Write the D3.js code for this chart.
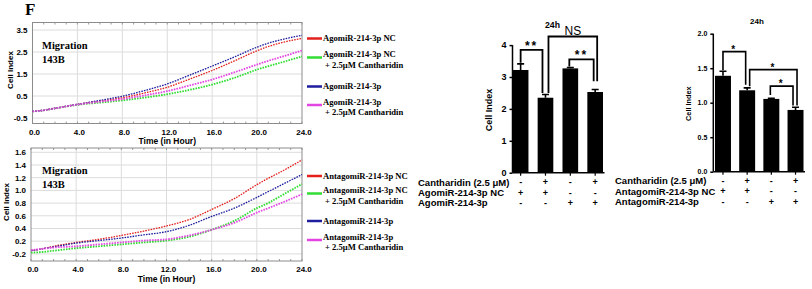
<!DOCTYPE html>
<head>
<meta charset="utf-8">
<script src="https://d3js.org/d3.v7.min.js"></script>
<style>
  body { margin: 0; background: #fff; }
  svg text { font-family: "Liberation Sans", Arial, sans-serif; font-weight: bold; fill: #000; }
  svg text.serif { font-family: "Liberation Serif", "Times New Roman", serif; }
  .frame { fill: none; stroke: #8c8c8c; stroke-width: 1; }
  .grid line { stroke: #dcdcdc; stroke-width: 1; }
  .minor line { stroke: #9a9a9a; stroke-width: 1; }
  .curve { fill: none; stroke-width: 1.4; stroke-dasharray: 1.6,1.1; }
  .bar { fill: #000; }
  .err { stroke: #000; stroke-width: 1.6; fill: none; }
  .sig { fill: none; stroke: #000; stroke-width: 1.8; }
  .baraxis line, .baraxis path { stroke: #000; stroke-width: 1.5; }
</style>
</head>
<body>
<svg id="fig" width="812" height="289"></svg>
<script>
// ---- data ----
var hours = [0, 1, 2, 4, 6, 8, 10, 12, 14, 16, 18, 20, 21, 22, 24];

// agomiR migration (top panel)
var agoNC       = [-0.2, -0.15, -0.06, 0.12, 0.27, 0.42, 0.64, 0.90, 1.27, 1.66, 2.10, 2.56, 2.75, 2.90, 3.12];
var agoNCCanth  = [-0.2, -0.15, -0.06, 0.10, 0.20, 0.30, 0.43, 0.58, 0.78, 1.02, 1.33, 1.70, 1.86, 2.00, 2.30];
var ago         = [-0.2, -0.15, -0.06, 0.12, 0.30, 0.49, 0.75, 1.05, 1.45, 1.86, 2.28, 2.72, 2.90, 3.04, 3.26];
var agoCanth    = [-0.2, -0.15, -0.06, 0.11, 0.24, 0.36, 0.53, 0.72, 0.98, 1.25, 1.58, 1.93, 2.10, 2.25, 2.57];

// antagomiR migration (bottom panel)
var antNC       = [0.05, 0.08, 0.12, 0.18, 0.23, 0.29, 0.36, 0.44, 0.54, 0.70, 0.87, 1.09, 1.19, 1.28, 1.48];
var antNCCanth  = [0.02, 0.03, 0.05, 0.09, 0.12, 0.15, 0.18, 0.21, 0.27, 0.38, 0.52, 0.72, 0.80, 0.90, 1.10];
var ant         = [0.05, 0.08, 0.11, 0.17, 0.21, 0.25, 0.30, 0.35, 0.45, 0.59, 0.72, 0.89, 0.98, 1.07, 1.25];
var antCanth    = [0.06, 0.08, 0.10, 0.12, 0.15, 0.18, 0.21, 0.23, 0.29, 0.38, 0.49, 0.65, 0.72, 0.79, 0.94];

var seriesColors = ['#e3201c', '#33dd33', '#1d1d9e', '#e245e2'];

var agoLegend = [['AgomiR-214-3p NC'], ['AgomiR-214-3p NC', '+ 2.5\u03bcM Cantharidin'],
                 ['AgomiR-214-3p'], ['AgomiR-214-3p', '+ 2.5\u03bcM Cantharidin']];
var antLegend = [['AntagomiR-214-3p NC'], ['AntagomiR-214-3p NC', '+ 2.5\u03bcM Cantharidin'],
                 ['AntagomiR-214-3p'], ['AntagomiR-214-3p', '+ 2.5\u03bcM Cantharidin']];

var hourTicks = [0, 4, 8, 12, 16, 20, 24];
var topTicks = [-0.5, 0.5, 1.5, 2.5, 3.5];
var topTickLabels = ['-0.5', '0.5', '1.5', '2.5', '3.5'];
var bottomTicks = [0, 0.2, 0.4, 0.6, 0.8, 1.0, 1.2, 1.4, 1.6];
var bottomTickLabels = ['-0.2', '0.2', '0.4', '0.6', '0.8', '1.0', '1.2', '1.4', '1.6'];

// 24h bar panels
var groups = ['g1', 'g2', 'g3', 'g4'];
var agoMeans = [3.22, 2.35, 3.27, 2.53];
var agoErr   = [0.19, 0.10, 0.03, 0.08];
var antMeans = [1.39, 1.18, 1.055, 0.895];
var antErr   = [0.065, 0.035, 0.01, 0.04];
var canthRow = ['-', '+', '-', '+'];
var ncRow    = ['+', '+', '-', '-'];
var mirRow   = ['-', '-', '+', '+'];
var agoRowNames = ['Cantharidin (2.5 \u03bcM)', 'AgomiR-214-3p NC', 'AgomiR-214-3p'];
var antRowNames = ['Cantharidin (2.5 \u03bcM)', 'AntagomiR-214-3p NC', 'AntagomiR-214-3p'];
var agoBarTicks = [0, 1, 2, 3, 4];
var antBarTicks = [0, 0.5, 1.0, 1.5, 2.0];

// significance: [from, to, label, top, leg bottom a, leg bottom b] (data units)
var agoSig = [[0, 1, '**', 3.85, 3.45, 2.50], [1, 3, 'NS', 4.27, 2.50, 2.87], [2, 3, '**', 3.55, 3.33, 2.87]];
var antSig = [[0, 1, '*', 1.74, 1.47, 1.26], [1, 3, '*', 1.48, 1.24, 0.96], [2, 3, '*', 1.24, 1.11, 0.96]];

var svg = d3.select('#fig');

svg.append('text').attr('class', 'serif')
    .attr('x', 25).attr('y', 15)
    .style('font-size', '17px')
    .text('F');

// ---- line panels ----
function linePanel(opt) {
  var x = d3.scaleLinear().domain([0, 24]).range([opt.left, opt.right]);
  var y = d3.scaleLinear().domain(opt.domain).range([opt.bottom, opt.top]);
  var g = svg.append('g');

  var grid = g.append('g').attr('class', 'grid');
  grid.selectAll('.v').data(hourTicks.slice(1, -1)).enter().append('line')
      .attr('x1', x).attr('x2', x).attr('y1', opt.top).attr('y2', opt.bottom);
  grid.selectAll('.h').data(opt.ticks).enter().append('line')
      .attr('x1', opt.left).attr('x2', opt.right).attr('y1', y).attr('y2', y);

  // small inward ticks on the frame
  var minor = g.append('g').attr('class', 'minor');
  var hrs = d3.range(0, 25, 1);
  minor.selectAll('.t').data(hrs).enter().append('line')
      .attr('x1', x).attr('x2', x).attr('y1', opt.top).attr('y2', opt.top + 2);
  minor.selectAll('.b').data(hrs).enter().append('line')
      .attr('x1', x).attr('x2', x).attr('y1', opt.bottom).attr('y2', opt.bottom - 2);

  g.append('rect').attr('class', 'frame')
      .attr('x', opt.left).attr('y', opt.top)
      .attr('width', opt.right - opt.left).attr('height', opt.bottom - opt.top);

  var line = d3.line().x(function(d, i) { return x(hours[i]); }).y(function(d) { return y(d); })
      .curve(d3.curveMonotoneX);
  opt.series.forEach(function(s, i) {
    g.append('path').attr('class', 'curve')
        .attr('d', line(s))
        .style('stroke', seriesColors[i])
        .style('stroke-width', (i == 1 || i == 3) ? 1.8 : 1.3);
  });

  g.selectAll('.ylab').data(opt.ticks).enter().append('text')
      .attr('x', opt.left - 5).attr('y', y).attr('dy', '0.35em')
      .attr('text-anchor', 'end').style('font-size', '8px')
      .text(function(d, i) { return opt.tickLabels[i]; });

  g.selectAll('.xlab').data(hourTicks).enter().append('text')
      .attr('x', function(d) { return x(d) + 2; }).attr('y', opt.bottom + 11)
      .attr('text-anchor', 'middle').style('font-size', '8px')
      .text(function(d) { return d3.format('.1f')(d); });

  g.append('text').attr('x', (opt.left + opt.right) / 2).attr('y', opt.bottom + 20.5)
      .attr('text-anchor', 'middle').style('font-size', '8.5px')
      .text('Time (in Hour)');

  g.append('text')
      .attr('transform', 'translate(' + opt.ylabX + ',' + opt.ylabY + ') rotate(-90)')
      .attr('text-anchor', 'middle').style('font-size', '8px')
      .text('Cell Index');

  g.append('text').attr('class', 'serif').attr('x', 42).attr('y', opt.top + 26)
      .style('font-size', '10.5px').text('Migration');
  g.append('text').attr('class', 'serif').attr('x', 42).attr('y', opt.top + 40)
      .style('font-size', '10.5px').text('143B');

  // legend
  var lg = g.append('g');
  opt.legend.forEach(function(lines, i) {
    var ly = opt.legendY[i];
    lg.append('line').attr('x1', 307).attr('x2', 322).attr('y1', ly).attr('y2', ly)
        .style('stroke', seriesColors[i]).style('stroke-width', 2.5);
    lines.forEach(function(t, j) {
      lg.append('text').attr('class', 'serif')
          .attr('x', j == 0 ? 323 : 325)
          .attr('y', ly + (lines.length > 1 ? -3 + j * 10.5 : 0)).attr('dy', '0.33em')
          .style('font-size', '8.6px').text(t);
    });
  });
}

linePanel({
  left: 32.5, right: 302, top: 22.5, bottom: 123.5,
  domain: [3.5 - (123.5 - 30) / 22, 3.5 + (30 - 22.5) / 22],
  ticks: topTicks, tickLabels: topTickLabels,
  series: [agoNC, agoNCCanth, ago, agoCanth],
  legend: agoLegend, legendY: [38.5, 57.5, 86.5, 105],
  ylabX: 13, ylabY: 70
});

linePanel({
  left: 31, right: 302, top: 148, bottom: 261,
  domain: [-(261 - 253.9) / 63.5, (253.9 - 148) / 63.5],
  ticks: bottomTicks, tickLabels: bottomTickLabels,
  series: [antNC, antNCCanth, ant, antCanth],
  legend: antLegend, legendY: [176, 193.5, 221, 240],
  ylabX: 9, ylabY: 202
});

// ---- bar panels ----
function barPanel(opt) {
  var x = d3.scaleBand().domain(groups).range([opt.x0, opt.x1]).paddingInner(opt.pad).paddingOuter(0);
  var y = d3.scaleLinear().domain([0, opt.ticks[opt.ticks.length - 1]]).range([opt.y0, opt.y1]);
  var g = svg.append('g');
  var cx = function(i) { return x(groups[i]) + x.bandwidth() / 2; };

  g.selectAll('.bar').data(opt.means).enter().append('rect').attr('class', 'bar')
      .attr('x', function(d, i) { return x(groups[i]); })
      .attr('y', function(d) { return y(d); })
      .attr('width', x.bandwidth())
      .attr('height', function(d) { return y(0) - y(d); });

  opt.means.forEach(function(m, i) {
    var top = y(m + opt.err[i]);
    g.append('path').attr('class', 'err')
        .attr('d', 'M' + cx(i) + ',' + y(m) + 'V' + top + 'M' + (cx(i) - 3.5) + ',' + top + 'H' + (cx(i) + 3.5));
  });

  // axes
  var ax = g.append('g').attr('class', 'baraxis').attr('transform', 'translate(' + opt.axisX + ',0)')
      .call(d3.axisLeft(y).tickValues(opt.ticks).tickSize(3).tickFormat(opt.fmt));
  ax.select('.domain').attr('d', 'M0,' + y(0) + 'V' + y(opt.ticks[opt.ticks.length - 1]));
  ax.selectAll('text').style('font-size', opt.tickFont).style('font-family', '"Liberation Sans", Arial, sans-serif')
      .style('font-weight', 'bold').attr('fill', opt.tickColor);

  g.append('line').attr('x1', opt.axisX).attr('x2', opt.x1 + 1.5).attr('y1', y(0)).attr('y2', y(0))
      .style('stroke', '#000').style('stroke-width', 1.5);
  groups.forEach(function(d, i) {
    g.append('line').attr('x1', cx(i)).attr('x2', cx(i)).attr('y1', y(0)).attr('y2', y(0) + 3)
        .style('stroke', '#000').style('stroke-width', 1.2);
  });

  g.append('text')
      .attr('transform', 'translate(' + opt.ylabX + ',' + ((y(0) + y(opt.ticks[opt.ticks.length - 1])) / 2 + 1) + ') rotate(-90)')
      .attr('text-anchor', 'middle').style('font-size', opt.ylabFont).text('Cell Index');

  g.append('text').attr('x', opt.titleX).attr('y', opt.titleY).attr('text-anchor', 'middle')
      .style('font-size', opt.titleFont).text('24h');

  // significance brackets
  opt.sig.forEach(function(s, k) {
    var xa = cx(s[0]) + opt.legDx[k][0], xb = cx(s[1]) + opt.legDx[k][1];
    var yt = y(s[3]);
    g.append('path').attr('class', 'sig').style('stroke-width', opt.sigWidth)
        .attr('d', 'M' + xa + ',' + y(s[4]) + 'V' + yt + 'H' + xb + 'V' + y(s[5]));
    var ns = s[2] == 'NS';
    g.append('text').attr('x', (xa + xb) / 2).attr('y', ns ? yt - 1.5 : yt + opt.starDy)
        .attr('text-anchor', 'middle')
        .style('font-weight', ns ? 'normal' : 'bold')
        .style('font-size', ns ? '12px' : opt.starFont)
        .style('letter-spacing', ns ? '0px' : '2px')
        .text(s[2]);
  });

  // treatment rows
  var rows = [canthRow, ncRow, mirRow];
  rows.forEach(function(r, j) {
    var ry = opt.rowY[j];
    g.append('text').attr('x', opt.rowX).attr('y', ry).attr('dy', '0.35em')
        .style('font-size', '9.5px').text(opt.rowNames[j]);
    r.forEach(function(sgn, i) {
      g.append('text').attr('x', cx(i)).attr('y', ry).attr('dy', '0.35em')
          .attr('text-anchor', 'middle').style('font-size', '9px').text(sgn);
    });
  });
}

barPanel({
  x0: 512.8, x1: 603, pad: 0.37, y0: 172.7, y1: 172.7 - 4 * 31.9, axisX: 512.5,
  ticks: agoBarTicks, fmt: d3.format('d'), tickFont: '9px', tickColor: '#000',
  means: agoMeans, err: agoErr, sig: agoSig,
  legDx: [[0, -3], [3, 2], [-1, -1.5]], sigWidth: 1.8, starDy: 0, starFont: '12px',
  ylabX: 491.5, ylabFont: '9px', titleX: 552.5, titleY: 28, titleFont: '8.7px',
  rowX: 418, rowY: [182.3, 192.5, 202.5], rowNames: agoRowNames
});

barPanel({
  x0: 715, x1: 803.5, pad: 0.34, y0: 171.7, y1: 171.7 - 2 * 69, axisX: 713.3,
  ticks: antBarTicks, fmt: d3.format('.1f'), tickFont: '7px', tickColor: '#333',
  means: antMeans, err: antErr, sig: antSig,
  legDx: [[0, -1.5], [2.5, 1.5], [-1, -2.5]], sigWidth: 1.6, starDy: 1, starFont: '10px',
  ylabX: 691, ylabFont: '7.3px', titleX: 757, titleY: 23.5, titleFont: '8px',
  rowX: 615, rowY: [180.8, 191.2, 201.8], rowNames: antRowNames
});
</script>
</body>
